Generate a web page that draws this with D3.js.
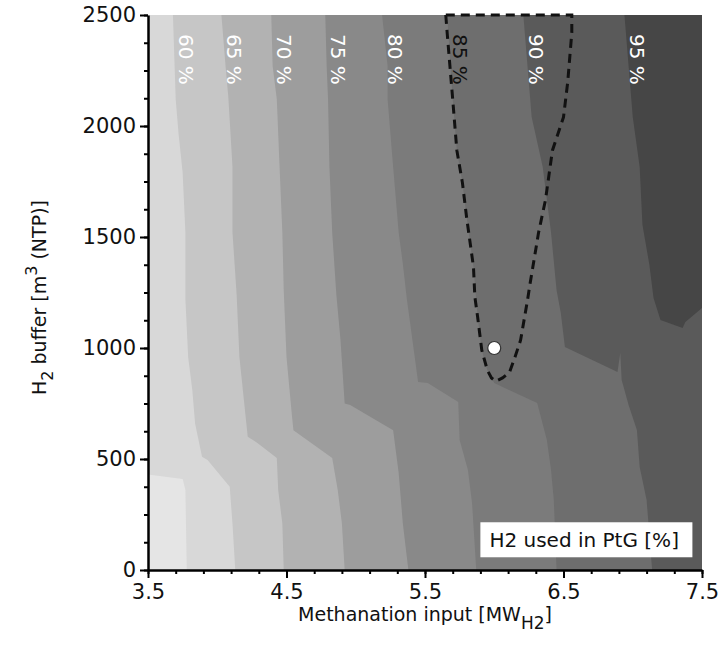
<!DOCTYPE html>
<html lang="en">
<head>
<meta charset="UTF-8">
<title>H2 used in PtG</title>
<script src="https://cdn.jsdelivr.net/npm/d3@7"></script>
<style>
  body { margin: 0; background: #fff; }
  text { font-family: "DejaVu Sans", Verdana, sans-serif; }
</style>
</head>
<body>
<script>
// contour levels, H2 used in PtG [%]
const levels = [55, 60, 65, 70, 75, 80, 85, 90, 95];
const labelLevels = [60, 65, 70, 75, 80, 85, 90, 95];

// contour lines: [methanation input MW, buffer m3]
const line55 = [[3.5, 2500], [3.5, 430], [3.75, 410], [3.77, 360], [3.78, 0]];
const line60 = [[3.68, 2500], [3.70, 2120], [3.72, 1970], [3.75, 1790], [3.77, 1520], [3.77, 1220], [3.79, 960], [3.82, 810], [3.84, 660], [3.89, 510], [3.93, 495], [4.09, 375], [4.11, 210], [4.13, 0]];
const line65 = [[4.03, 2500], [4.06, 2270], [4.08, 2130], [4.11, 1815], [4.11, 1520], [4.14, 1240], [4.16, 960], [4.22, 600], [4.29, 572], [4.43, 505], [4.44, 360], [4.47, 210], [4.48, 0]];
const line70 = [[4.39, 2500], [4.40, 2270], [4.43, 2120], [4.45, 1815], [4.47, 1520], [4.48, 1260], [4.50, 960], [4.54, 690], [4.55, 630], [4.83, 505], [4.87, 360], [4.90, 210], [4.92, 0]];
const line75 = [[4.78, 2500], [4.79, 2270], [4.80, 2120], [4.81, 1815], [4.83, 1520], [4.86, 1240], [4.89, 1035], [4.92, 750], [4.96, 743], [5.27, 630], [5.31, 437], [5.34, 210], [5.38, 0]];
const line80 = [[5.19, 2500], [5.23, 2270], [5.23, 2120], [5.27, 1815], [5.31, 1520], [5.34, 1380], [5.37, 1215], [5.39, 1125], [5.45, 847], [5.52, 842], [5.74, 757], [5.75, 586], [5.81, 450], [5.84, 300], [5.87, 0]];
const line85 = [[5.66, 2500], [5.70, 2120], [5.73, 1890], [5.77, 1745], [5.80, 1590], [5.85, 1365], [5.88, 1140], [5.91, 990], [5.95, 900], [6.00, 842], [6.31, 752], [6.38, 586], [6.41, 450], [6.43, 315], [6.45, 0]];
const line90 = [[6.21, 2500], [6.24, 2270], [6.27, 2040], [6.35, 1815], [6.38, 1667], [6.41, 1520], [6.45, 1260], [6.48, 1160], [6.51, 1005], [6.89, 892], [6.91, 977], [6.92, 856], [6.97, 743], [7.03, 631], [7.05, 464], [7.10, 315], [7.14, 0]];
const line95 = [[6.94, 2500], [6.97, 2270], [7.00, 2040], [7.05, 1815], [7.07, 1555], [7.12, 1375], [7.15, 1225], [7.20, 1126], [7.36, 1090], [7.38, 1117], [7.5, 1180]];

// dashed region and the chosen design point
const dashedRegion = [[5.65, 2500], [5.66, 2420], [5.70, 2120], [5.73, 1890], [5.77, 1745], [5.80, 1590], [5.85, 1365], [5.86, 1230], [5.88, 1140], [5.91, 990], [5.95, 900], [5.98, 865], [6.01, 850], [6.06, 865], [6.11, 890], [6.15, 960], [6.19, 1035], [6.24, 1215], [6.26, 1295], [6.32, 1520], [6.37, 1667], [6.42, 1890], [6.50, 2040], [6.53, 2195], [6.56, 2420], [6.56, 2500]];
const designPoint = [6.0, 1000];

const xTicks = [3.5, 4.5, 5.5, 6.5, 7.5];
const yTicks = [0, 500, 1000, 1500, 2000, 2500];

const bandColors = ["#e5e5e5", "#d8d8d8", "#c6c6c6", "#b2b2b2", "#9d9d9d", "#898989", "#7b7b7b", "#6e6e6e", "#5a5a5a", "#464646"];

const width = 722, height = 660;
const margin = { top: 15, right: 20, bottom: 90, left: 148 };
const plotW = width - margin.left - margin.right;
const plotH = height - margin.top - margin.bottom;

const svg = d3.select("body").append("svg")
  .attr("width", width)
  .attr("height", height);

const x = d3.scaleLinear().domain([3.5, 7.5]).range([0, plotW]);
const y = d3.scaleLinear().domain([0, 2500]).range([plotH, 0]);

const g = svg.append("g").attr("transform", `translate(${margin.left},${margin.top})`);

g.append("clipPath").attr("id", "plot-clip")
  .append("rect").attr("width", plotW).attr("height", plotH);

const bands = g.append("g").attr("clip-path", "url(#plot-clip)");

// lowest band as background
bands.append("rect")
  .attr("width", plotW)
  .attr("height", plotH)
  .attr("fill", bandColors[0]);

const contourLines = [line55, line60, line65, line70, line75, line80, line85, line90, line95];

const lineGen = d3.line().x(d => x(d[0])).y(d => y(d[1]));

// each level: everything right of its contour line
bands.selectAll("path.band")
  .data(contourLines)
  .join("path")
  .attr("class", "band")
  .attr("d", pts => {
    const last = pts[pts.length - 1];
    return lineGen(pts.concat([[7.5, last[1]], [7.5, 0], [7.5, 2500]])) + "Z";
  })
  .attr("fill", (d, i) => bandColors[i + 1]);

// contour labels
g.append("g").selectAll("text")
  .data(labelLevels)
  .join("text")
  .attr("transform", d => {
    const pts = contourLines[levels.indexOf(d)];
    return `translate(${x(pts[0][0]) + 13},${y(2300)}) rotate(90)`;
  })
  .attr("text-anchor", "middle")
  .attr("dominant-baseline", "central")
  .attr("font-size", 20)
  .attr("fill", d => d === 85 ? "#111" : "#fff")
  .text(d => d + " %");

// dashed outline
g.append("path")
  .datum(dashedRegion)
  .attr("d", d3.line().x(d => x(d[0])).y(d => y(d[1])).curve(d3.curveLinearClosed))
  .attr("fill", "none")
  .attr("stroke", "#111")
  .attr("stroke-width", 3)
  .attr("stroke-dasharray", "9,6");

g.append("circle")
  .attr("cx", x(designPoint[0]))
  .attr("cy", y(designPoint[1]))
  .attr("r", 6.5)
  .attr("fill", "#fff")
  .attr("stroke", "#333")
  .attr("stroke-width", 1.2);

// legend box
const legend = g.append("g").attr("transform", `translate(${x(5.9)},${y(215)})`);
legend.append("rect")
  .attr("width", 212)
  .attr("height", 35)
  .attr("fill", "#fff");
legend.append("text")
  .attr("x", 9)
  .attr("y", 25)
  .attr("font-size", 20)
  .attr("fill", "#111")
  .text("H2 used in PtG [%]");

// axes
const xMinor = d3.range(3.5, 7.51, 0.2);
const yMinor = d3.range(0, 2501, 125);

g.append("g")
  .attr("transform", `translate(0,${plotH})`)
  .call(d3.axisBottom(x).tickValues(xMinor).tickSize(4).tickSizeOuter(0).tickFormat(""))
  .call(a => a.select(".domain").remove())
  .selectAll("line").attr("stroke-width", 2);

g.append("g")
  .call(d3.axisLeft(y).tickValues(yMinor).tickSize(4).tickSizeOuter(0).tickFormat(""))
  .call(a => a.select(".domain").remove())
  .selectAll("line").attr("stroke-width", 2);

const xAxis = g.append("g")
  .attr("transform", `translate(0,${plotH})`)
  .call(d3.axisBottom(x).tickValues(xTicks).tickSize(8).tickSizeOuter(0).tickPadding(6).tickFormat(d3.format(".1f")));

const yAxis = g.append("g")
  .call(d3.axisLeft(y).tickValues(yTicks).tickSize(8).tickSizeOuter(0).tickPadding(4).tickFormat(d3.format("d")));

[xAxis, yAxis].forEach(a => {
  a.select(".domain").attr("stroke-width", 2.5);
  a.selectAll(".tick line").attr("stroke-width", 2);
  a.selectAll(".tick text")
    .attr("font-size", 21)
    .attr("font-family", "DejaVu Sans, Verdana, sans-serif")
    .attr("fill", "#111");
});

// axis titles
const xTitle = svg.append("text")
  .attr("x", margin.left + plotW / 2)
  .attr("y", 621)
  .attr("text-anchor", "middle")
  .attr("font-size", 19)
  .attr("fill", "#111");
xTitle.append("tspan").text("Methanation input [MW");
xTitle.append("tspan").attr("dy", 8).attr("font-size", 17).text("H2");
xTitle.append("tspan").attr("dy", -8).text("]");

const yTitle = svg.append("text")
  .attr("transform", `translate(46,${margin.top + plotH / 2 + 5}) rotate(-90)`)
  .attr("text-anchor", "middle")
  .attr("font-size", 19)
  .attr("fill", "#111");
yTitle.append("tspan").text("H");
yTitle.append("tspan").attr("dy", 7).attr("font-size", 16).text("2");
yTitle.append("tspan").attr("dy", -7).text(" buffer [m");
yTitle.append("tspan").attr("dy", -9).attr("font-size", 16).text("3");
yTitle.append("tspan").attr("dy", 9).text(" (NTP)]");
</script>
</body>
</html>
